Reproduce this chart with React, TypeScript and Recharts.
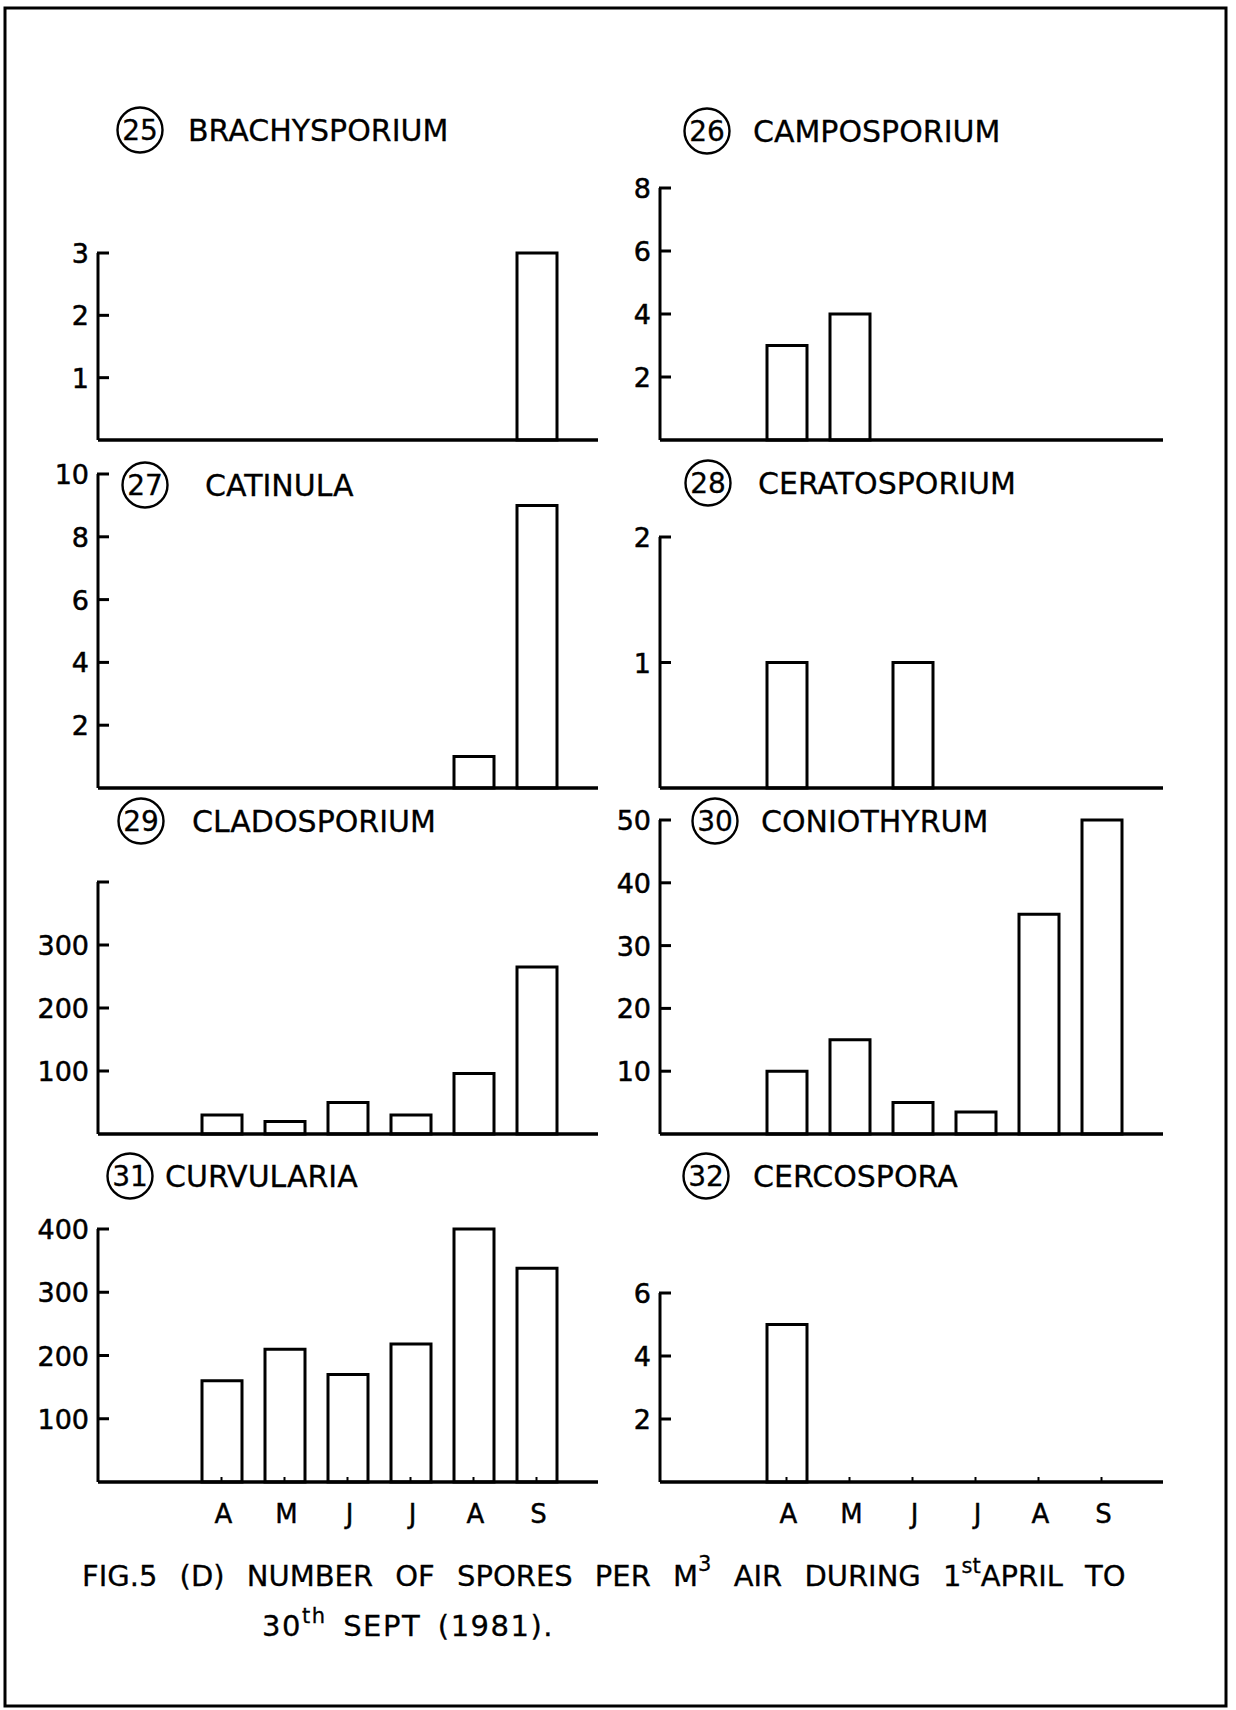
import { BarChart, Bar, XAxis, YAxis } from 'recharts';

// months April..September 1981
const months = ['Apr', 'May', 'Jun', 'Jul', 'Aug', 'Sep'];
const monthLabels = ['A', 'M', 'J', 'J', 'A', 'S'];

// spores per m3 of air
const brachysporium = [0, 0, 0, 0, 0, 3];
const camposporium = [3, 4, 0, 0, 0, 0];
const catinula = [0, 0, 0, 0, 1, 9];
const ceratosporium = [1, 0, 1, 0, 0, 0];
const cladosporium = [30, 20, 50, 30, 96, 265];
const coniothyrum = [10, 15, 5, 3.5, 35, 50];
const curvularia = [160, 210, 170, 218, 400, 338];
const cercospora = [5, 0, 0, 0, 0, 0];

const FONT = '"DejaVu Sans", sans-serif';

const panels = [
  { no: 25, name: 'BRACHYSPORIUM', values: brachysporium, max: 3, ticks: [1, 2, 3] },
  { no: 26, name: 'CAMPOSPORIUM', values: camposporium, max: 8, ticks: [2, 4, 6, 8] },
  { no: 27, name: 'CATINULA', values: catinula, max: 10, ticks: [2, 4, 6, 8, 10] },
  { no: 28, name: 'CERATOSPORIUM', values: ceratosporium, max: 2, ticks: [1, 2] },
  { no: 29, name: 'CLADOSPORIUM', values: cladosporium, max: 400, ticks: [100, 200, 300, 400], hideTop: true },
  { no: 30, name: 'CONIOTHYRUM', values: coniothyrum, max: 50, ticks: [10, 20, 30, 40, 50] },
  { no: 31, name: 'CURVULARIA', values: curvularia, max: 400, ticks: [100, 200, 300, 400], months: true },
  { no: 32, name: 'CERCOSPORA', values: cercospora, max: 6, ticks: [2, 4, 6], months: true },
];

// where each panel sits on the page
const LEFT = { axisX: 98, plotW: 500, padL: 92, padR: 30 };
const RIGHT = { axisX: 660, plotW: 503, padL: 95, padR: 30 };
const layout = [
  { ...LEFT, top: 253, bottom: 440, cx: 140, cy: 130, nameX: 188 },
  { ...RIGHT, top: 188, bottom: 440, cx: 707, cy: 131, nameX: 753 },
  { ...LEFT, top: 474, bottom: 788, cx: 145, cy: 485, nameX: 205 },
  { ...RIGHT, top: 537, bottom: 788, cx: 708, cy: 483, nameX: 758 },
  { ...LEFT, top: 882, bottom: 1134, cx: 141, cy: 821, nameX: 192 },
  { ...RIGHT, top: 820, bottom: 1134, cx: 715, cy: 821, nameX: 761 },
  { ...LEFT, top: 1229, bottom: 1482, cx: 130, cy: 1176, nameX: 165 },
  { ...RIGHT, top: 1293, bottom: 1482, cx: 706, cy: 1176, nameX: 753 },
];

const Y_W = 90;
const M_TOP = 20;
const X_H = 60;

function ValueTick(props: any) {
  const { x, y, payload, hideTop, max } = props;
  return (
    <g>
      <line x1={x - 1} x2={x + 11} y1={y} y2={y} stroke="#000" strokeWidth={3} />
      {!(hideTop && payload.value === max) && (
        <text x={x - 9} y={y + 10} textAnchor="end" fontFamily={FONT} fontSize={27} fill="#000" stroke="#000" strokeWidth={0.5}>
          {payload.value}
        </text>
      )}
    </g>
  );
}

function MonthTick(props: any) {
  const { x, y, payload } = props;
  const label = monthLabels[months.indexOf(payload.value)];
  return (
    <g>
      <line x1={x} x2={x} y1={y} y2={y - 5} stroke="#000" strokeWidth={2} />
      <text x={x + 2} y={y + 41} textAnchor="middle" fontFamily={FONT} fontSize={26} fill="#000" stroke="#000" strokeWidth={0.4}>
        {label}
      </text>
    </g>
  );
}

function SporeChart({ p, l }: { p: any; l: any }) {
  const data = months.map((m, i) => ({ month: m, v: p.values[i] }));
  const width = Y_W + l.plotW + 10;
  const height = M_TOP + (l.bottom - l.top) + X_H;
  return (
    <div style={{ position: 'absolute', left: l.axisX - Y_W, top: l.top - M_TOP }}>
      <BarChart width={width} height={height} data={data} margin={{ top: M_TOP, right: 10, left: 0, bottom: 0 }}>
        <XAxis
          dataKey="month"
          height={X_H}
          padding={{ left: l.padL, right: l.padR }}
          axisLine={{ stroke: '#000', strokeWidth: 3.5 }}
          tickLine={false}
          tickSize={0}
          tickMargin={0}
          interval={0}
          tick={p.months ? <MonthTick /> : false}
        />
        <YAxis
          width={Y_W}
          type="number"
          domain={[0, p.max]}
          ticks={p.ticks}
          interval={0}
          axisLine={{ stroke: '#000', strokeWidth: 3 }}
          tickLine={false}
          tickSize={0}
          tickMargin={0}
          tick={(t: any) => <ValueTick {...t} hideTop={p.hideTop} max={p.max} />}
        />
        <Bar dataKey="v" barSize={40} fill="#fff" stroke="#000" strokeWidth={3} isAnimationActive={false} />
      </BarChart>
    </div>
  );
}

export default function App() {
  return (
    <div style={{ position: 'absolute', left: 0, top: 0, width: 1236, height: 1710, background: '#fff' }}>
      <svg width={1236} height={1710} style={{ position: 'absolute', left: 0, top: 0 }}>
        <rect x={5} y={8} width={1221} height={1698} fill="none" stroke="#000" strokeWidth={3} />
        {panels.map((p, i) => {
          const l = layout[i];
          return (
            <g key={p.no}>
              <circle cx={l.cx} cy={l.cy} r={22.5} fill="none" stroke="#000" strokeWidth={2.4} />
              <text x={l.cx} y={l.cy + 10} textAnchor="middle" fontFamily={FONT} fontSize={28} fill="#000" stroke="#000" strokeWidth={0.3}>
                {p.no}
              </text>
              <text x={l.nameX} y={l.cy + 11} fontFamily={FONT} fontSize={30} fill="#000" stroke="#000" strokeWidth={0.3}>
                {p.name}
              </text>
            </g>
          );
        })}
        <text x={82} y={1586} fontFamily={FONT} fontSize={29} fill="#000" stroke="#000" strokeWidth={0.3} wordSpacing={13}>
          FIG.5 (D) NUMBER OF SPORES PER M
          <tspan dy={-15} fontSize={21}>3</tspan>
          <tspan dy={15}> AIR DURING 1</tspan>
          <tspan dy={-13} fontSize={21}>st</tspan>
          <tspan dy={13}>APRIL TO</tspan>
        </text>
        <text x={262} y={1636} fontFamily={FONT} fontSize={29} fill="#000" stroke="#000" strokeWidth={0.3} letterSpacing={1.5} wordSpacing={6}>
          30
          <tspan dy={-13} fontSize={21}>th</tspan>
          <tspan dy={13}> SEPT (1981).</tspan>
        </text>
      </svg>
      {panels.map((p, i) => (
        <SporeChart key={p.no} p={p} l={layout[i]} />
      ))}
    </div>
  );
}
